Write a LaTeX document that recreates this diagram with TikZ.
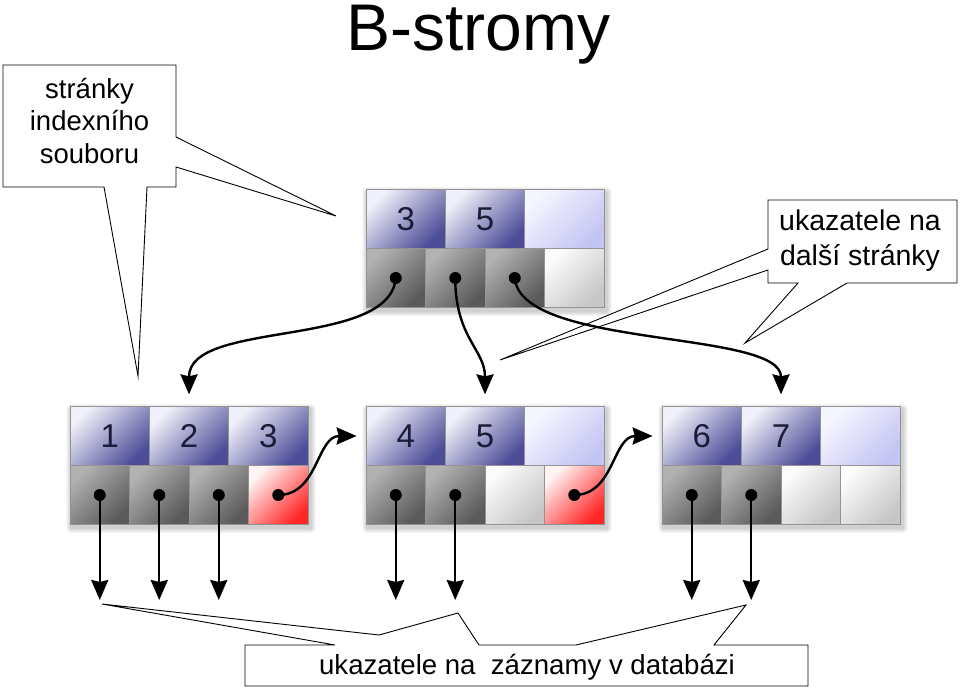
\documentclass[tikz,border=0pt]{standalone}
\usepackage{fontspec}
\setmainfont{Liberation Sans}
\usetikzlibrary{matrix,arrows.meta,backgrounds}

\definecolor{keyink}{HTML}{1C1C38}
\definecolor{keylight}{HTML}{F0F0FA}
\definecolor{keydark}{HTML}{4C4C98}
\definecolor{freelight}{HTML}{F6F6FF}
\definecolor{freedark}{HTML}{C4C4F4}
\definecolor{ptrlight}{HTML}{B2B2B2}
\definecolor{ptrdark}{HTML}{5A5A5A}
\definecolor{emptylight}{HTML}{FCFCFC}
\definecolor{emptydark}{HTML}{C6C6C6}
\definecolor{nextlight}{HTML}{FFF4F4}
\definecolor{nextdark}{HTML}{FF2626}

\tikzset{
  cell/.style={draw=gray!85, line width=0.8pt, inner sep=0pt, anchor=center},
  keycell/.style={cell, minimum width=79.3pt, minimum height=58.5pt,
    top color=keylight, bottom color=keydark, shading angle=45,
    text=keyink, font=\fontsize{33}{33}\selectfont},
  keyfree/.style={top color=freelight, bottom color=freedark, shading angle=45},
  ptrcell/.style={cell, minimum width=59.5pt, minimum height=59pt,
    top color=ptrlight, bottom color=ptrdark, shading angle=45},
  ptrfree/.style={top color=emptylight, bottom color=emptydark, shading angle=45},
  ptrnext/.style={top color=nextlight, bottom color=nextdark, shading angle=45},
  keyrow/.style={matrix of nodes, nodes in empty cells, nodes={keycell},
    column sep=-0.8pt, inner sep=0pt},
  ptrrow/.style={matrix of nodes, nodes in empty cells, nodes={ptrcell},
    column sep=-0.8pt, inner sep=0pt},
  ptrarrow/.style={line width=2.4pt, -{Stealth[length=20pt, width=17pt, inset=2pt]}},
  callout/.style={draw=black, line width=0.9pt, fill=white, line join=miter},
  note/.style={align=center}
}

\begin{document}
\begin{tikzpicture}[x=1pt, y=-1pt]
  \useasboundingbox (0,0) rectangle (960,687);

  % Title
  \node (title) [anchor=base, font=\fontsize{66}{66}\selectfont] at (478,51) {B-stromy};

  % Callouts
  \draw[callout] (3,65) -- (176,65) -- (176,137) -- (336,216) -- (176,167)
    -- (176,187) -- (147,187) -- (138,376) -- (104,187) -- (3,187) -- cycle;
  \node (pagesnote) [note, font=\fontsize{27.5}{32.5}\selectfont] at (89.5,121)
    {stránky\\indexního\\souboru};

  \draw[callout] (768,200) -- (957,200) -- (957,283) -- (847,283) -- (745,343)
    -- (798,283) -- (768,283) -- (768,270) -- (500,360) -- (768,249) -- cycle;
  \node (linksnote) [note, font=\fontsize{28.5}{35}\selectfont] at (860,241)
    {ukazatele na\\další stránky};

  \draw[callout] (245,645) -- (335,645) -- (102,604) -- (379,635) -- (458,613)
    -- (479,645) -- (576,645) -- (746,605) -- (714,645) -- (808,645)
    -- (808,686) -- (245,686) -- cycle;
  \node (recordsnote) [note, font=\fontsize{27.6}{32}\selectfont] at (527,667)
    {ukazatele na\ \ záznamy v databázi};

  % Root page
  \matrix (rk) [keyrow] at (485,219) { 3 & 5 & |[keyfree]| \\ };
  \matrix (rp) [ptrrow] at (485,278) { & & & |[ptrfree]| \\ };

  % Leaf pages
  \matrix (ak) [keyrow] at (189,436) { 1 & 2 & 3 \\ };
  \matrix (ap) [ptrrow] at (189,495) { & & & |[ptrnext]| \\ };

  \matrix (bk) [keyrow] at (485,436) { 4 & 5 & |[keyfree]| \\ };
  \matrix (bp) [ptrrow] at (485,495) { & & |[ptrfree]| & |[ptrnext]| \\ };

  \matrix (ck) [keyrow] at (781,436) { 6 & 7 & |[keyfree]| \\ };
  \matrix (cp) [ptrrow] at (781,495) { & & |[ptrfree]| & |[ptrfree]| \\ };

  % Soft shadows under the pages
  \begin{scope}[on background layer]
    \foreach \k/\q in {rk/rp, ak/ap, bk/bp, ck/cp}
      \foreach \s in {1,...,5}
        \fill[black, opacity=.04, rounded corners=\s pt]
          ([xshift={2-\s}, yshift={\s-3}]\k.north west)
          rectangle ([xshift={\s+2}, yshift={-\s-3}]\q.south east);
  \end{scope}

  % Pointer dots
  \foreach \c in {rp-1-1, rp-1-2, rp-1-3, ap-1-1, ap-1-2, ap-1-3, ap-1-4,
                  bp-1-1, bp-1-2, bp-1-4, cp-1-1, cp-1-2}
    \fill (\c) circle (6pt);

  % Root -> leaves
  \draw[ptrarrow] (rp-1-1.center) .. controls +(-6,71) and +(0,-75) .. ([yshift=12pt]ak-1-2.north);
  \draw[ptrarrow] (rp-1-2.center) .. controls +(0,60) and +(0,-45) .. ([yshift=12pt]bk-1-2.north);
  \draw[ptrarrow] (rp-1-3.center) .. controls +(6,71) and +(0,-65) .. ([yshift=12pt]ck-1-2.north);

  % Next leaf links
  \draw[ptrarrow] (ap-1-4.center) .. controls +(40,0) and +(-40,0) .. ([xshift=-9pt]bk-1-1.west);
  \draw[ptrarrow] (bp-1-4.center) .. controls +(40,0) and +(-40,0) .. ([xshift=-9pt]ck-1-1.west);

  % Record pointers
  \foreach \c in {ap-1-1, ap-1-2, ap-1-3, bp-1-1, bp-1-2, cp-1-1, cp-1-2} {
    \coordinate (\c-rec) at ([yshift=-105pt]\c.center);
    \draw[ptrarrow] (\c.center) -- (\c-rec);
  }
\end{tikzpicture}
\end{document}
